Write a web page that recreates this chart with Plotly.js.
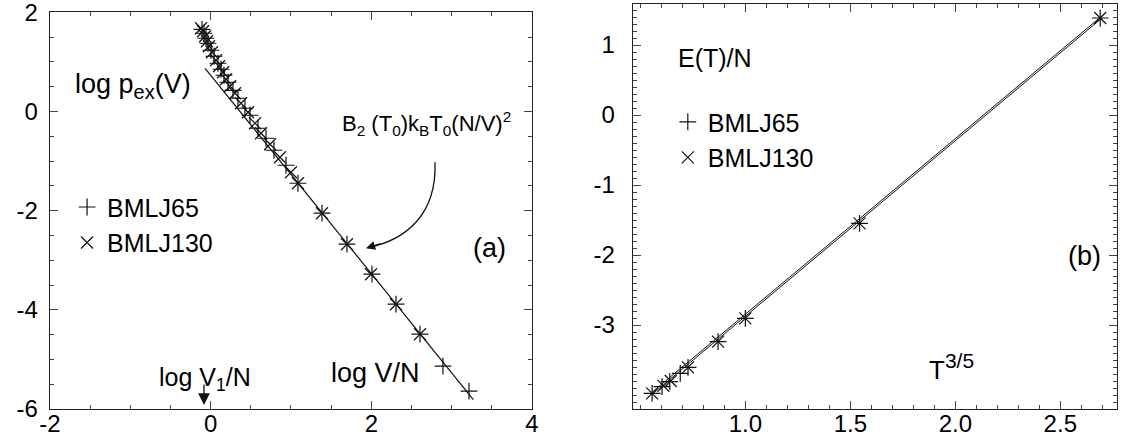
<!DOCTYPE html>
<html>
<head>
<meta charset="utf-8">
<script src="https://cdn.plot.ly/plotly-3.0.1.min.js"></script>
<style>html,body{margin:0;padding:0;background:#fff;}#chart{width:1123px;height:445px;}</style>
</head>
<body>
<div id="chart"></div>
<script>
// ---- Panel (a): log p_ex(V) vs log V/N ----
const a65_x = [-0.108,-0.083,-0.058,-0.033,0.004,0.042,0.091,0.129,0.166,0.216,0.278,0.340,0.427,0.490,0.589,0.689,0.788,0.938,1.087,1.386,1.697,2.008,2.307,2.606,2.892,3.216];
const a65_y = [1.657,1.577,1.476,1.375,1.234,1.113,0.972,0.851,0.730,0.589,0.427,0.266,0.065,-0.077,-0.339,-0.540,-0.782,-1.085,-1.448,-2.052,-2.677,-3.282,-3.887,-4.492,-5.137,-5.641];
const a130_x = [-0.120,-0.095,-0.070,-0.046,-0.021,0.017,0.066,0.104,0.154,0.191,0.241,0.303,0.378,0.465,0.552,0.627,0.739,0.863,1.000,1.087,1.386,1.697,1.996,2.307,2.606];
const a130_y = [1.677,1.617,1.516,1.415,1.315,1.194,1.032,0.911,0.790,0.649,0.508,0.367,0.165,-0.016,-0.238,-0.440,-0.661,-0.923,-1.226,-1.448,-2.052,-2.677,-3.282,-3.887,-4.492];
// B2(T0) kB T0 (N/V)^2 line
const aLine_x = [-0.07, 3.27];
const aLine_y = [0.87, -5.81];
const aXticks = [-2, 0, 2, 4];
const aXlabels = ['-2', '0', '2', '4'];
const aYticks = [-6, -4, -2, 0, 2];
const aYlabels = ['-6', '-4', '-2', '0', '2'];

// ---- Panel (b): E(T)/N vs T^{3/5} ----
const b65_x = [0.556,0.603,0.640,0.690,0.727,0.870,1.000,1.544,2.690];
const b65_y = [-3.976,-3.881,-3.810,-3.690,-3.605,-3.238,-2.905,-1.547,1.386];
const b130_x = [0.556,0.610,0.645,0.727,0.870,1.000,1.544,2.690];
const b130_y = [-3.976,-3.870,-3.800,-3.605,-3.238,-2.905,-1.547,1.386];
const bLine65_x = [0.556, 2.700];
const bLine65_y = [-3.960, 1.420];
const bLine130_x = [0.556, 2.700];
const bLine130_y = [-3.990, 1.390];
const bXticks = [1.0, 1.5, 2.0, 2.5];
const bXlabels = ['1.0', '1.5', '2.0', '2.5'];
const bYticks = [-3, -2, -1, 0, 1];
const bYlabels = ['-3', '-2', '-1', '0', '1'];

const FONT = 'Arial, "Liberation Sans", sans-serif';
const ink = '#111';

const mk = (sym) => ({symbol: sym, size: 12, color: ink, line: {color: ink, width: 1.2}});

const traces = [
  {x: aLine_x, y: aLine_y, mode: 'lines', line: {color: ink, width: 1.2}, xaxis: 'x', yaxis: 'y', showlegend: false, hoverinfo: 'skip'},
  {x: a65_x, y: a65_y, mode: 'markers', name: 'BMLJ65', marker: mk('cross-thin-open'), xaxis: 'x', yaxis: 'y', legend: 'legend'},
  {x: a130_x, y: a130_y, mode: 'markers', name: 'BMLJ130', marker: mk('x-thin-open'), xaxis: 'x', yaxis: 'y', legend: 'legend'},
  {x: bLine65_x, y: bLine65_y, mode: 'lines', line: {color: ink, width: 1}, xaxis: 'x2', yaxis: 'y2', showlegend: false},
  {x: bLine130_x, y: bLine130_y, mode: 'lines', line: {color: ink, width: 1}, xaxis: 'x2', yaxis: 'y2', showlegend: false},
  {x: b65_x, y: b65_y, mode: 'markers', name: 'BMLJ65', marker: mk('cross-thin-open'), xaxis: 'x2', yaxis: 'y2', legend: 'legend2'},
  {x: b130_x, y: b130_y, mode: 'markers', name: 'BMLJ130', marker: mk('x-thin-open'), xaxis: 'x2', yaxis: 'y2', legend: 'legend2'}
];

const axBase = {
  showgrid: false, zeroline: false, showline: true, linecolor: '#222', linewidth: 1.3,
  mirror: 'allticks', ticks: 'inside', ticklen: 8, tickwidth: 1, tickcolor: '#444',
  ticklabeloverflow: 'allow',
  tickfont: {family: FONT, size: 24, color: '#000'}
};

const layout = {
  width: 1123, height: 445,
  margin: {l: 50, r: 6, t: 4, b: 36},
  paper_bgcolor: '#fff', plot_bgcolor: '#fff',
  font: {family: FONT, color: '#000'},
  xaxis: Object.assign({}, axBase, {domain: [0, 0.4517], range: [-2, 4], tickvals: aXticks, ticktext: aXlabels,
    ticklabelstandoff: -7,
    minor: {dtick: 0.5, ticks: 'inside', ticklen: 4, tickcolor: '#444'}, anchor: 'y'}),
  yaxis: Object.assign({}, axBase, {domain: [0, 0.9802], range: [-6, 2.005], tickvals: aYticks, ticktext: aYlabels,
    ticklabelstandoff: 6,
    minor: {dtick: 0.5, ticks: 'inside', ticklen: 4, tickcolor: '#444'}, anchor: 'x'}),
  xaxis2: Object.assign({}, axBase, {domain: [0.5464, 1], range: [0.465, 2.77], tickvals: bXticks, ticktext: bXlabels,
    ticklabelstandoff: -7,
    minor: {dtick: 0.1, tick0: 0, ticks: 'inside', ticklen: 4, tickcolor: '#444'}, anchor: 'y2'}),
  yaxis2: Object.assign({}, axBase, {domain: [0, 1], range: [-4.2, 1.586], tickvals: bYticks, ticktext: bYlabels,
    ticklabelstandoff: 12,
    minor: {dtick: 0.1, tick0: 0, ticks: 'inside', ticklen: 4, tickcolor: '#444'}, anchor: 'x2'}),
  legend: {x: 0.016, y: 0.555, xanchor: 'left', yanchor: 'top', bgcolor: 'rgba(0,0,0,0)',
    font: {family: FONT, size: 25, color: '#000'}, itemwidth: 30},
  legend2: {x: 0.579, y: 0.765, xanchor: 'left', yanchor: 'top', bgcolor: 'rgba(0,0,0,0)',
    font: {family: FONT, size: 25, color: '#000'}, itemwidth: 30},
  shapes: [
    {type: 'path', xref: 'x', yref: 'y', path: 'M 2.793,-1.024 C 2.818,-2.093 2.419,-2.597 1.960,-2.745',
     line: {color: ink, width: 1.3}}
  ],
  annotations: [
    {xref: 'x', yref: 'y', x: -1.714, y: 0.52, xanchor: 'left', yanchor: 'middle', showarrow: false,
     text: 'log p<sub><span style="font-size:20px">ex</span></sub>(V)', font: {family: FONT, size: 27}},
    {xref: 'x', yref: 'y', x: 1.61, y: -0.24, xanchor: 'left', yanchor: 'middle', showarrow: false,
     text: 'B<sub>2</sub> (T<sub>0</sub>)k<sub>B</sub>T<sub>0</sub>(N/V)<sup>2</sup>', font: {family: FONT, size: 22}},
    {xref: 'x', yref: 'y', x: 1.934, y: -2.758, ax: 16, ay: -5, axref: 'pixel', ayref: 'pixel', text: '', showarrow: true,
     arrowhead: 2, arrowsize: 1.4, arrowwidth: 1.3, arrowcolor: ink},
    {xref: 'x', yref: 'y', x: 3.477, y: -2.76, showarrow: false, text: '(a)', font: {family: FONT, size: 27}},
    {xref: 'x', yref: 'y', x: -0.07, y: -5.40, showarrow: false, text: 'log V<sub>1</sub>/N', font: {family: FONT, size: 25}},
    {xref: 'x', yref: 'y', x: -0.083, y: -5.92, ax: 0, ay: -22, axref: 'pixel', ayref: 'pixel', text: '', showarrow: true,
     arrowhead: 2, arrowsize: 1.8, arrowwidth: 1.3, arrowcolor: ink},
    {xref: 'x', yref: 'y', x: 2.046, y: -5.28, showarrow: false, text: 'log V/N', font: {family: FONT, size: 27}},
    {xref: 'x2', yref: 'y2', x: 0.67, y: 0.814, xanchor: 'left', showarrow: false, text: 'E(T)/N', font: {family: FONT, size: 25}},
    {xref: 'x2', yref: 'y2', x: 2.614, y: -2.02, showarrow: false, text: '(b)', font: {family: FONT, size: 27}},
    {xref: 'x2', yref: 'y2', x: 1.867, y: -3.60, xanchor: 'left', showarrow: false,
     text: 'T<sup><span style="font-size:21px">3/5</span></sup>', font: {family: FONT, size: 26}}
  ]
};

Plotly.newPlot('chart', traces, layout, {displayModeBar: false, staticPlot: true});
</script>
</body>
</html>
